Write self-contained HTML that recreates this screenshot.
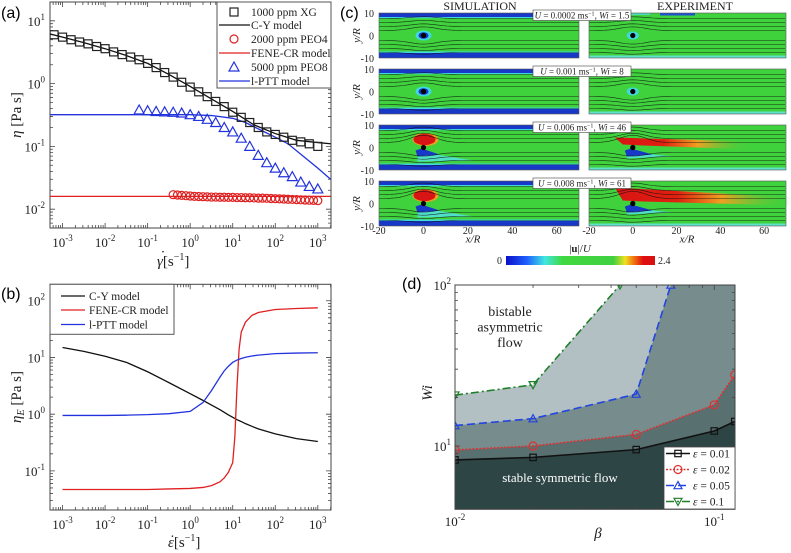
<!DOCTYPE html>
<html><head><meta charset="utf-8">
<style>
html,body{margin:0;padding:0;background:#fff;}
svg{display:block;font-family:"Liberation Serif",serif;}
.sans{font-family:"Liberation Sans",sans-serif;}
</style></head>
<body>
<svg id="fig" width="791" height="553" viewBox="0 0 791 553" xmlns="http://www.w3.org/2000/svg">
<defs>
<linearGradient id="cbar" x1="0" x2="1" y1="0" y2="0">
<stop offset="0" stop-color="#0a10c8"/><stop offset="0.14" stop-color="#2060ff"/><stop offset="0.26" stop-color="#40e6e0"/>
<stop offset="0.38" stop-color="#40d840"/><stop offset="0.72" stop-color="#40d040"/><stop offset="0.8" stop-color="#f0e020"/>
<stop offset="0.86" stop-color="#f07010"/><stop offset="0.92" stop-color="#e01010"/><stop offset="1" stop-color="#d81010"/>
</linearGradient>
<linearGradient id="streak" x1="0" x2="1" y1="0" y2="0">
<stop offset="0" stop-color="#d81414"/><stop offset="0.35" stop-color="#e02010"/><stop offset="0.6" stop-color="#f0a020"/><stop offset="1" stop-color="#40d040" stop-opacity="0"/>
</linearGradient>
<clipPath id="clipD"><rect x="455" y="285" width="280" height="224.3"/></clipPath>
<clipPath id="clipA"><rect x="50" y="2" width="281" height="226"/></clipPath>
<clipPath id="clipB"><rect x="50" y="284.3" width="281" height="225.7"/></clipPath>
</defs>
<text class="sans" x="1" y="18" font-size="16">(a)</text>
<text class="sans" x="1" y="299" font-size="16">(b)</text>
<text class="sans" x="340" y="18" font-size="16">(c)</text>
<text class="sans" x="402" y="289" font-size="16">(d)</text>
<g id="pa"></g>
<g id="pb"></g>
<g id="pc"></g>
<g id="pd"></g>
</svg>
<script>
// ---------- Panel (a) data ----------
const xgLogRate = [-3.2,-3.0,-2.8,-2.6,-2.4,-2.2,-2.0,-1.8,-1.6,-1.4,-1.2,-1.0,-0.8,-0.6,-0.4,-0.2,0,0.2,0.4,0.6,0.8,1.0,1.2,1.4,1.6,1.8,2.0,2.2,2.4,2.6,2.8,3.0];
const xgVisc = [6.0,5.5,5.0,4.6,4.3,3.9,3.6,3.2,2.9,2.65,2.4,2.1,1.8,1.5,1.27,1.05,0.88,0.74,0.62,0.52,0.43,0.35,0.29,0.24,0.20,0.17,0.155,0.14,0.125,0.118,0.11,0.10];
const cyLogRate = [-3.3,-3.0,-2.5,-2.0,-1.5,-1.0,-0.5,0,0.5,1.0,1.5,2.0,2.5,3.0,3.3];
const cyVisc = [6.2,5.5,4.5,3.6,2.8,2.1,1.4,0.9,0.57,0.36,0.22,0.16,0.125,0.115,0.11];
const peo4LogRate = [-0.4,-0.3,-0.2,-0.1,0,0.1,0.2,0.3,0.4,0.5,0.6,0.7,0.8,0.9,1.0,1.1,1.2,1.3,1.4,1.5,1.6,1.7,1.8,1.9,2.0,2.1,2.2,2.3,2.4,2.5,2.6,2.7,2.8,2.9,3.0];
const peo4Visc = [0.0170,0.0168,0.0166,0.0164,0.0162,0.0160,0.0159,0.0158,0.0157,0.0156,0.0156,0.0155,0.0155,0.0154,0.0154,0.0153,0.0153,0.0152,0.0152,0.0151,0.0150,0.0150,0.0149,0.0148,0.0147,0.0146,0.0145,0.0144,0.0143,0.0142,0.0141,0.0140,0.0139,0.0138,0.0137];
const feneLogRate = [-3.3,3.3];
const feneVisc = [0.016,0.016];
const peo8LogRate = [-1.2,-1.0,-0.8,-0.6,-0.4,-0.2,0,0.2,0.4,0.6,0.8,1.0,1.2,1.4,1.6,1.8,2.0,2.2,2.4,2.6,2.8,3.0];
const peo8Visc = [0.38,0.37,0.36,0.355,0.35,0.34,0.32,0.30,0.27,0.24,0.20,0.17,0.135,0.10,0.072,0.055,0.045,0.038,0.033,0.027,0.023,0.021];
const pttLogRate = [-3.3,-1.0,0,0.5,1.0,1.3,1.6,2.0,2.3,2.6,3.0,3.3];
const pttVisc = [0.32,0.32,0.32,0.31,0.28,0.24,0.19,0.14,0.11,0.075,0.045,0.030];
const aXTicks = [-3,-2,-1,0,1,2,3];
const aYTicks = [1,0,-1,-2];
// ---------- Panel (b) data ----------
const bLogRate = [-3,-2.5,-2,-1.5,-1,-0.5,0,0.3,0.5,0.7,0.8,0.9,1.0,1.05,1.1,1.15,1.2,1.3,1.45,1.6,2.0,2.5,3.0];
const bCY = [15,12.8,10.5,8.2,5.6,3.6,2.3,1.75,1.45,1.2,1.08,0.97,0.88,0.84,0.8,0.77,0.74,0.68,0.61,0.55,0.45,0.37,0.33];
const bFENE = [0.047,0.047,0.047,0.047,0.047,0.048,0.049,0.051,0.055,0.064,0.075,0.095,0.14,0.4,3,14,28,42,55,62,70,73,75];
const bPTT = [0.95,0.95,0.95,0.96,0.98,1.02,1.12,1.6,2.6,4.5,5.8,7.0,8.2,8.6,9.0,9.3,9.6,10.1,10.6,11.0,11.7,11.95,12.1];
const bXTicks = [-3,-2,-1,0,1,2,3];
const bYTicks = [2,1,0,-1];
// ---------- Panel (d) data ----------
const dBeta01 = [0.01,0.02,0.05,0.1,0.12];
const dWi01 = [8.2,8.5,9.5,12.4,14.2];
const dBeta02 = [0.01,0.02,0.05,0.1,0.12];
const dWi02 = [9.45,10.0,11.8,18.0,27.6];
const dBeta05 = [0.01,0.02,0.05,0.068];
const dWi05 = [13.4,14.8,21.0,100];
const dBeta1 = [0.01,0.02,0.0433];
const dWi1 = [20.7,24.0,100];
const dXTicks = [-2,-1];
const dYTicks = [2,1];

const NS="http://www.w3.org/2000/svg";
function mk(parent,tag,attrs){const e=document.createElementNS(NS,tag);for(const k in attrs)e.setAttribute(k,attrs[k]);parent.appendChild(e);return e;}
function mkScale(x0,x1,l0,l1){return l=>x0+(l-l0)/(l1-l0)*(x1-x0);}
function pow10Label(g,x,y,exp,anchor){
  const t=mk(g,'text',{x:x,y:y,'font-size':13,'text-anchor':anchor,fill:'#222'});
  
  
  const a=document.createElementNS(NS,'tspan');a.textContent='10';t.appendChild(a);
  const b=document.createElementNS(NS,'tspan');b.setAttribute('dy','-6');b.setAttribute('font-size','9');b.textContent=String(exp);t.appendChild(b);
  return t;
}
function logFrame(g,box,xl,yl,xTicks,yTicks,name){
  const X=mkScale(box.x0,box.x1,xl[0],xl[1]), Y=mkScale(box.y1,box.y0,yl[0],yl[1]);
  const f=mk(g,'rect',{x:box.x0,y:box.y0,width:box.x1-box.x0,height:box.y1-box.y0,fill:'none',stroke:'#444','stroke-width':1});
  
  
  let d='';
  for(let dec=Math.floor(xl[0]);dec<=Math.ceil(xl[1]);dec++)for(let k=1;k<10;k++){const l=dec+Math.log10(k);if(l<xl[0]||l>xl[1])continue;const x=X(l),len=k==1?5:3;d+=`M${x},${box.y1}v${-len}M${x},${box.y0}v${len}`;}
  for(let dec=Math.floor(yl[0]);dec<=Math.ceil(yl[1]);dec++)for(let k=1;k<10;k++){const l=dec+Math.log10(k);if(l<yl[0]||l>yl[1])continue;const y=Y(l),len=k==1?5:3;d+=`M${box.x0},${y}h${len}M${box.x1},${y}h${-len}`;}
  const tk=mk(g,'path',{d:d,stroke:'#444','stroke-width':0.8,fill:'none'});
  
  
  xTicks.forEach(e=>pow10Label(g,X(e),box.y1+19,e,'middle'));
  yTicks.forEach(e=>pow10Label(g,box.x0-5,Y(e)+5,e,'end'));
  return {X,Y};
}
function line(g,xs,ys,X,Y,col,name,extra,isLog){
  const pts=xs.map((v,i)=>X(isLog?v:Math.log10(v))+','+Y(Math.log10(ys[i]))).join(' ');
  const p=mk(g,'polyline',Object.assign({points:pts,fill:'none',stroke:col,'stroke-width':1.3},extra||{}));
  
  
  return p;
}
function marker(g,type,x,y,col,s,name){
  let e;
  if(type==='sq')e=mk(g,'rect',{x:x-s,y:y-s,width:2*s,height:2*s,fill:'none',stroke:col,'stroke-width':1.2});
  else if(type==='ci')e=mk(g,'circle',{cx:x,cy:y,r:s,fill:'none',stroke:col,'stroke-width':1.2});
  else if(type==='tu')e=mk(g,'polygon',{points:`${x},${y-s} ${x-s},${y+s*0.8} ${x+s},${y+s*0.8}`,fill:'none',stroke:col,'stroke-width':1.2});
  else e=mk(g,'polygon',{points:`${x},${y+s} ${x-s},${y-s*0.8} ${x+s},${y-s*0.8}`,fill:'none',stroke:col,'stroke-width':1.2});
  
  
  return e;
}
function txt(g,x,y,s,size,name,extra){
  const t=mk(g,'text',Object.assign({x:x,y:y,'font-size':size,fill:'#222'},extra||{}));t.textContent=s;
  
  
  return t;
}

// ===== Panel A =====
(function(){
  const g=document.getElementById('pa');
  const box={x0:50,x1:331,y0:2,y1:228};
  const {X,Y}=logFrame(g,box,[-3.295,3.31],[-2.3,1.3],aXTicks,aYTicks,'panel-a');
  const c=mk(g,'g',{'clip-path':'url(#clipA)'});
  line(c,cyLogRate,cyVisc,X,Y,'#111','cy-model-line',{},true);
  line(c,feneLogRate,feneVisc,X,Y,'#e02020','fene-cr-model-line',{},true);
  line(c,pttLogRate,pttVisc,X,Y,'#2233dd','l-ptt-model-line',{},true);
  xgLogRate.forEach((l,i)=>marker(c,'sq',X(l),Y(Math.log10(xgVisc[i])),'#222',4,'xg-point'));
  peo4LogRate.forEach((l,i)=>marker(c,'ci',X(l),Y(Math.log10(peo4Visc[i])),'#e02020',4,'peo4-point'));
  peo8LogRate.forEach((l,i)=>marker(c,'tu',X(l),Y(Math.log10(peo8Visc[i])),'#2233dd',5,'peo8-point'));
  const lg=mk(g,'g',{});
  mk(lg,'rect',{x:217,y:2,width:114,height:86,fill:'#fff',stroke:'#555','stroke-width':1});
  const items=[['sq','#222','1000 ppm XG'],['l','#111','C-Y model'],['ci','#e02020','2000 ppm PEO4'],['l','#e02020','FENE-CR model'],['tu','#2233dd','5000 ppm PEO8'],['l','#2233dd','l-PTT model']];
  const ys=[12,25,39,53,67,81];
  items.forEach((it,i)=>{
    if(it[0]==='l'){const l=mk(lg,'line',{x1:219,x2:250,y1:ys[i],y2:ys[i],stroke:it[1],'stroke-width':1.3});}
    else marker(lg,it[0],234,ys[i],it[1],it[0]==='tu'?5:4,'legend-marker');
    txt(lg,251,ys[i]+4,it[2],11.5,'legend-entry');
  });
  const yl=txt(g,0,0,'',15,'y-axis-title',{transform:'translate(21,115) rotate(-90)','text-anchor':'middle'});
  yl.innerHTML='<tspan font-style="italic">η</tspan> [Pa s]';
  const xl=txt(g,157,266,'',15,'x-axis-title',{'text-anchor':'start'});
  xl.innerHTML='<tspan font-style="italic">γ</tspan>[s<tspan dy="-6" font-size="10">−1</tspan><tspan dy="6">]</tspan>';
  txt(g,163,256.5,'·',14,'x-axis-title-dot',{'text-anchor':'middle'});
})();

// ===== Panel B =====
(function(){
  const g=document.getElementById('pb');
  const box={x0:50,x1:331,y0:284.3,y1:510};
  const {X,Y}=logFrame(g,box,[-3.295,3.31],[-1.69,2.29],bXTicks,bYTicks,'panel-b');
  const c=mk(g,'g',{'clip-path':'url(#clipB)'});
  line(c,bLogRate,bCY,X,Y,'#111','cy-extensional-line',{},true);
  line(c,bLogRate,bFENE,X,Y,'#e02020','fene-cr-extensional-line',{},true);
  line(c,bLogRate,bPTT,X,Y,'#2233dd','l-ptt-extensional-line',{},true);
  const lg=mk(g,'g',{});
  mk(lg,'rect',{x:50,y:284.3,width:124,height:50,fill:'#fff',stroke:'#555','stroke-width':1});
  [['#111','C-Y model'],['#e02020','FENE-CR model'],['#2233dd','l-PTT model']].forEach((it,i)=>{
    const y=[296,310,324.5][i];
    const l=mk(lg,'line',{x1:61,x2:85,y1:y,y2:y,stroke:it[0],'stroke-width':1.3});
    txt(lg,89,y+4,it[1],11.5,'legend-entry');
  });
  const yl=txt(g,0,0,'',15,'y-axis-title',{transform:'translate(21,397) rotate(-90)','text-anchor':'middle'});
  yl.innerHTML='<tspan font-style="italic">η<tspan font-size="10" dy="3">E</tspan></tspan><tspan dy="-3"> [Pa s]</tspan>';
  const xl=txt(g,168,547,'',15,'x-axis-title',{'text-anchor':'start'});
  xl.innerHTML='<tspan font-style="italic">ε</tspan>[s<tspan dy="-6" font-size="10">−1</tspan><tspan dy="6">]</tspan>';
  txt(g,172.5,541,'·',14,'x-axis-title-dot',{'text-anchor':'middle'});
})();

// ===== Panel C (flow field images) =====
(function(){
  const g=document.getElementById('pc');
  txt(g,480,10,'SIMULATION',12,'simulation-header',{'text-anchor':'middle'});
  txt(g,695,10,'EXPERIMENT',12,'experiment-header',{'text-anchor':'middle'});
  const rowTops=[13,69,125,181], H=45;
  const labels=[['0.0002','1.5'],['0.001','8'],['0.006','46'],['0.008','61']];
  const panels=[{x0:379,x1:579,o:423.5,sim:true},{x0:589,x1:786,o:632.8,sim:false}];
  rowTops.forEach((t,ri)=>{
    const c=t+H/2, strong=ri>=2;
    panels.forEach(p=>{
      const pg=mk(g,'g',{});
      
      
      mk(pg,'rect',{x:p.x0,y:t,width:p.x1-p.x0,height:H,fill:'#3fd23c'});
      if(p.sim){
        mk(pg,'rect',{x:p.x0,y:t,width:p.x1-p.x0,height:4,fill:'#1838c8'});
        mk(pg,'rect',{x:p.x0,y:t+4,width:p.x1-p.x0,height:1.2,fill:'#40d8e0'});
        mk(pg,'rect',{x:p.x0,y:t+H-5,width:p.x1-p.x0,height:5,fill:'#1838c8'});
        mk(pg,'rect',{x:p.x0,y:t+H-6.5,width:p.x1-p.x0,height:1.5,fill:'#40d8e0'});
      } else {
        mk(pg,'rect',{x:p.x0,y:t+H-2.5,width:p.x1-p.x0,height:2.5,fill:'#60e0c8'});
        if(ri===0){mk(pg,'rect',{x:660,y:t,width:35,height:2.5,fill:'#2050d0'});mk(pg,'rect',{x:590,y:t,width:60,height:2,fill:'#50d8c0'});}
      }
      if(!strong){
        mk(pg,'ellipse',{cx:p.o,cy:c,rx:p.sim?8:6,ry:p.sim?5:4,fill:'#40d8e0'});
        if(p.sim)mk(pg,'ellipse',{cx:p.o,cy:c,rx:5,ry:3.3,fill:'#1838c8'});
      } else {
        const wake=p.sim?`${p.o-6},${c+4} ${p.o+50},${c+13} ${p.o-6},${c+14}`:`${p.o-6},${c+4} ${p.o+40},${c+9} ${p.o-6},${c+11}`;
        mk(pg,'polygon',{points:wake,fill:'#50e0c8'});
        mk(pg,'polygon',{points:`${p.o-8},${c+3} ${p.o-2},${c+1} ${p.o+(p.sim?16:20)},${c+7} ${p.o-6},${c+9}`,fill:'#1838c8'});
        if(p.sim){
          mk(pg,'ellipse',{cx:p.o+2,cy:c-8,rx:13,ry:6.5,fill:'#f0a020'});
          mk(pg,'ellipse',{cx:p.o+1,cy:c-8,rx:11,ry:5.5,fill:'#d81414'});
        } else {
          const len=ri===2?120:160;
          mk(pg,'polygon',{points:`${p.o-18},${c-(ri===2?10:16)} ${p.o+len},${c-6} ${p.o+len},${c+2} ${p.o+10},${c-2} ${p.o-10},${c-3}`,fill:'url(#streak)'});
        }
      }
      mk(pg,'circle',{cx:p.o,cy:c,r:2.6,fill:'#000'});
      let d='';
      [-17,-13,-9,-5,5,9,13,17].forEach(off=>{
        d+='M'+p.x0+','+(c+off);
        for(let x=p.x0;x<=p.x1;x+=4){const bump=Math.exp(-Math.pow((x-p.o)/18,2))*(off>0?1:-1)*(strong&&off<0?4:2)*(20/(Math.abs(off)+6));d+=' L'+x+','+(c+off+bump).toFixed(1);}
      });
      const sl=mk(pg,'path',{d:d,fill:'none',stroke:'#111','stroke-width':0.6,opacity:0.85});
      
      
      mk(pg,'rect',{x:p.x0,y:t,width:p.x1-p.x0,height:H,fill:'none',stroke:'#555','stroke-width':0.6});
    });
    txt(g,374,t+4,'10',10,'y-tick-label',{'text-anchor':'end'});
    txt(g,374,c+4,'0',10,'y-tick-label',{'text-anchor':'end'});
    txt(g,374,t+H+4,'-10',10,'y-tick-label',{'text-anchor':'end'});
    txt(g,0,0,'y/R',11,'y-axis-title',{transform:`translate(360,${c}) rotate(-90)`,'text-anchor':'middle','font-style':'italic'});
    const lb=mk(g,'g',{});
    mk(lb,'rect',{x:533,y:t-3,width:98,height:10.5,fill:'#fff',stroke:'#444','stroke-width':0.6});
    const tl=txt(lb,582,t+5.5,'',9,'condition-text',{'text-anchor':'middle'});
    tl.innerHTML=`<tspan font-style="italic">U</tspan> = ${labels[ri][0]} ms<tspan dy="-3" font-size="6">−1</tspan><tspan dy="3">, </tspan><tspan font-style="italic">Wi</tspan> = ${labels[ri][1]}`;
  });
  [[379,473],[589,687]].forEach((p,pi)=>{
    const w=(pi?197:200)/90;
    [-20,0,20,40,60].forEach(v=>txt(g,p[0]+(v+20)*w,234,String(v),10,'x-tick-label',{'text-anchor':'middle'}));
    txt(g,p[1],242.5,'x/R',11,'x-axis-title',{'text-anchor':'middle','font-style':'italic'});
  });
  const cb=mk(g,'rect',{x:506,y:256,width:149,height:9,fill:'url(#cbar)'});
  
  txt(g,502,264,'0',10,'colorbar-min',{'text-anchor':'end'});
  txt(g,658,264,'2.4',10,'colorbar-max');
  const ct=txt(g,580,252,'',11,'colorbar-title',{'text-anchor':'middle'});
  ct.innerHTML='|<tspan font-weight="bold">u</tspan>|/<tspan font-style="italic">U</tspan>';
})();

// ===== Panel D =====
(function(){
  const g=document.getElementById('pd');
  const box={x0:455,x1:735,y0:285,y1:509.3};
  const X=mkScale(box.x0,box.x1,-2,-0.92), Y=mkScale(box.y1,box.y0,0.607,2);
  const c=mk(g,'g',{'clip-path':'url(#clipD)'});
  mk(c,'rect',{x:box.x0,y:box.y0,width:280,height:224.3,fill:'#fff'});
  const fills=[[dBeta1,dWi1,'#b2c0c3'],[dBeta05,dWi05,'#768c8d'],[dBeta02,dWi02,'#587070'],[dBeta01,dWi01,'#2e4545']];
  fills.forEach((f,i)=>{
    let pts=f[0].map((b,j)=>X(Math.log10(b))+','+Y(Math.log10(f[1][j])));
    const lastY=Y(Math.log10(f[1][f[1].length-1]));
    pts.push(box.x1+2+','+Math.min(lastY,box.y0-2));
    pts.push(box.x1+2+','+(box.y1+2));pts.push((box.x0-2)+','+(box.y1+2));
    pts.push((box.x0-2)+','+Y(Math.log10(f[1][0])));
    const p=mk(c,'polygon',{points:pts.join(' '),fill:f[2]});
    
    
  });
  const ser=[[dBeta01,dWi01,'#111','sq',{},'eps-0.01-line'],[dBeta02,dWi02,'#e03030','ci',{'stroke-dasharray':'2,1.5'},'eps-0.02-line'],[dBeta05,dWi05,'#2244e0','tu',{'stroke-dasharray':'8,4'},'eps-0.05-line'],[dBeta1,dWi1,'#1f7f2a','td',{'stroke-dasharray':'8,3,2,3'},'eps-0.1-line']];
  ser.forEach(s=>{
    line(c,s[0],s[1],X,Y,s[2],s[5],Object.assign({'stroke-width':1.6},s[4]),false);
    s[0].forEach((b,j)=>marker(c,s[3],X(Math.log10(b)),Y(Math.log10(s[1][j])),s[2],s[3]==='sq'?3.2:4,'phase-point'));
  });
  let d='';
  for(let dec=-2;dec<=-1;dec++)for(let k=1;k<10;k++){const l=dec+Math.log10(k);if(l<-2||l>-0.92)continue;const x=X(l),len=k==1?5:3;d+=`M${x},${box.y1}v${-len}M${x},${box.y0}v${len}`;}
  for(let dec=0;dec<=2;dec++)for(let k=1;k<10;k++){const l=dec+Math.log10(k);if(l<0.607||l>2)continue;const y=Y(l),len=k==1?5:3;d+=`M${box.x0},${y}h${len}M${box.x1},${y}h${-len}`;}
  const tk=mk(g,'path',{d:d,stroke:'#444','stroke-width':0.8,fill:'none'});
  const fr=mk(g,'rect',{x:box.x0,y:box.y0,width:280,height:224.3,fill:'none',stroke:'#444','stroke-width':1});
  dXTicks.forEach(e=>pow10Label(g,X(e),526,e,'middle'));
  dYTicks.forEach(e=>pow10Label(g,box.x0-4,Y(e)+5,e,'end'));
  txt(g,598,538,'β',15,'x-axis-title',{'text-anchor':'middle','font-style':'italic'});
  txt(g,0,0,'Wi',15,'y-axis-title',{transform:'translate(432,393) rotate(-90)','text-anchor':'middle','font-style':'italic'});
  ['bistable','asymmetric','flow'].forEach((s,i)=>txt(g,510,316+i*15.5,s,14,'bistable-region-label',{'text-anchor':'middle'}));
  txt(g,560,482,'stable symmetric flow',13,'stable-region-label',{'text-anchor':'middle',fill:'#fff'});
  const lg=mk(g,'g',{});
  mk(lg,'rect',{x:664,y:447,width:71,height:62,fill:'#fff',stroke:'#444','stroke-width':0.8});
  const ly=[453.5,469.5,485.5,501.5], lt=['0.01','0.02','0.05','0.1'];
  ser.forEach((s,i)=>{
    const l=mk(lg,'line',Object.assign({x1:666,x2:690,y1:ly[i],y2:ly[i],stroke:s[2],'stroke-width':1.6},s[4]));
    marker(lg,s[3],678,ly[i],s[2],s[3]==='sq'?3.2:4,'legend-marker');
    const t=txt(lg,693,ly[i]+4,'',11.5,'legend-entry');
    t.innerHTML='<tspan font-style="italic">ε</tspan> = '+lt[i];
  });
})();
</script>
</body></html>
